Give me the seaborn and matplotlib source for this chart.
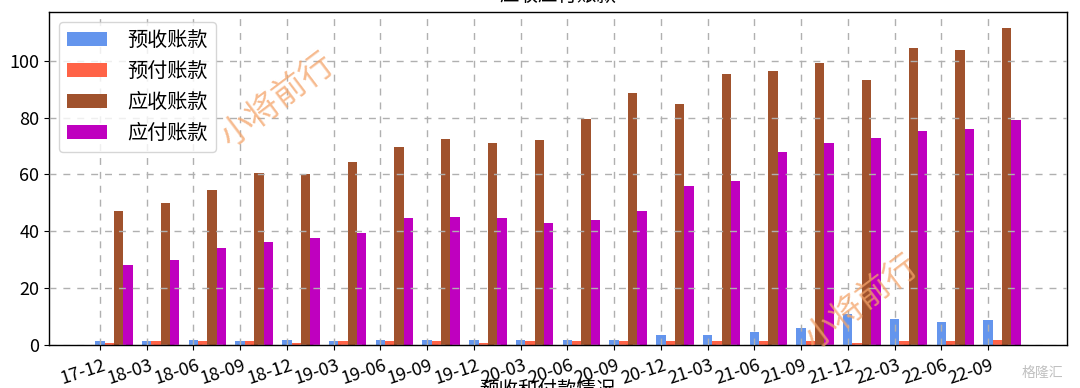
import numpy as np
import pandas as pd
import seaborn as sns
import matplotlib
matplotlib.use('Agg')
from matplotlib import pyplot as plt
from matplotlib import transforms

plt.rcParams['font.family'] = ['Noto Sans CJK SC', 'DejaVu Sans']
plt.rcParams['axes.unicode_minus'] = False

periods = ['17-12', '18-03', '18-06', '18-09', '18-12', '19-03', '19-06', '19-09', '19-12', '20-03',
           '20-06', '20-09', '20-12', '21-03', '21-06', '21-09', '21-12', '22-03', '22-06', '22-09']
series = ['预收账款', '预付账款', '应收账款', '应付账款']
colors = ['#6495ED', '#FF6347', '#A0522D', '#BF00BF']

adv_recv = [1.3, 1.3, 1.8, 1.3, 1.8, 1.3, 1.8, 1.8, 1.8, 1.8, 1.8, 1.8, 3.4, 3.4, 4.5, 6.1, 10.8, 9.1, 8.2, 8.7]
prepaid = [0.8, 1.3, 1.3, 1.3, 0.8, 1.3, 1.3, 1.3, 0.8, 1.3, 1.3, 1.3, 1.3, 1.3, 1.3, 1.3, 0.8, 1.3, 1.3, 1.8]
receivable = [47.2, 49.8, 54.6, 60.5, 60.2, 64.5, 69.5, 72.5, 71.0, 72.2,
              79.5, 88.5, 84.8, 95.4, 96.4, 99.1, 93.2, 104.4, 103.9, 111.3]
payable = [28.1, 29.8, 34.0, 36.1, 37.8, 39.3, 44.6, 45.1, 44.6, 43.0,
           44.0, 47.0, 55.8, 57.8, 67.9, 71.0, 72.7, 75.3, 75.9, 79.0]

df = pd.DataFrame({'period': periods, series[0]: adv_recv, series[1]: prepaid,
                   series[2]: receivable, series[3]: payable})
dfl = df.melt(id_vars='period', var_name='item', value_name='value')

fig = plt.figure(figsize=(10.8, 3.88), dpi=100)
ax = fig.add_axes([49/1080, 43/388, 1018/1080, 333/388])

sns.barplot(data=dfl, x='period', y='value', hue='item', hue_order=series,
            palette=colors, saturation=1, width=0.8, ax=ax)

# blue bar sits on the tick, the others follow to the right
ax.set_xticks(np.arange(len(periods)) - 0.3)
ax.set_xticklabels(periods, rotation=18, ha='right', fontsize=13)
shift = transforms.ScaledTranslation(8/100, -2/100, fig.dpi_scale_trans)
for lab in ax.get_xticklabels():
    lab.set_transform(lab.get_transform() + shift)
ax.set_xlim(-1.39, 20.39)
ax.set_ylim(0, 117.1)
ax.set_yticks([0, 20, 40, 60, 80, 100])
ax.tick_params(axis='y', labelsize=13)
ax.grid(True, color='#b0b0b0', linestyle=(0, (5, 5)), linewidth=1)
ax.set_axisbelow(False)
for s in ax.spines.values():
    s.set_linewidth(1)

ax.set_xlabel('预收和付款情况', fontsize=14)
ax.xaxis.set_label_coords(0.49, -0.103)
ax.xaxis.label.set_va('top')
ax.set_ylabel('')
ax.set_title('应收应付账款', fontsize=14, pad=8)

handles, labels = ax.get_legend_handles_labels()
ax.legend(handles, labels, loc='upper left', fontsize=14.5, title=None, handletextpad=1.0)

fig.text(0.257, 0.742, '小将前行', fontsize=24, rotation=37, color='#F4A46A', alpha=0.75,
         ha='center', va='center')
fig.text(0.798, 0.222, '小将前行', fontsize=24, rotation=37, color='#F4A46A', alpha=0.75,
         ha='center', va='center')
fig.text(0.965, 0.04, '格隆汇', fontsize=10, color='#c0c0c0', ha='center', va='center')

plt.savefig('out.png', dpi=100)
